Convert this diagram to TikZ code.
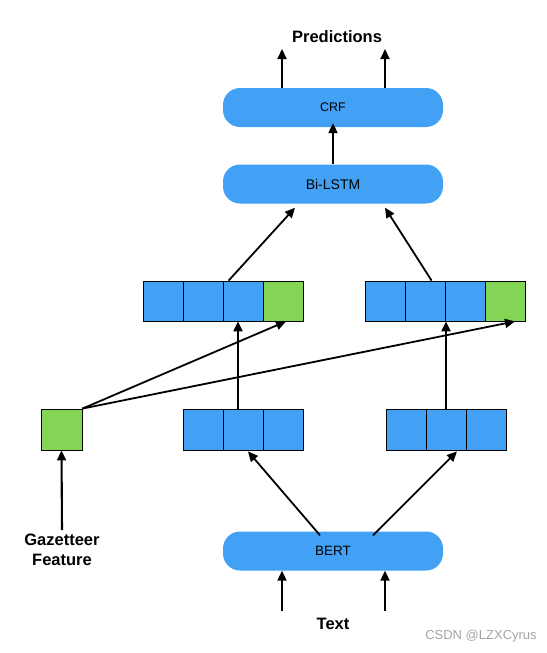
\documentclass[tikz,border=0pt]{standalone}
\usepackage{fontspec}
\setmainfont{Liberation Sans}
\usetikzlibrary{arrows.meta,calc}
\definecolor{bblue}{RGB}{66,161,245}
\definecolor{ggreen}{RGB}{132,212,85}
\definecolor{wm}{RGB}{165,165,165}
\begin{document}
\begin{tikzpicture}[x=1pt,y=-1pt,
  layer/.style={draw=none,fill=bblue,rounded corners=17pt,minimum width=220pt,minimum height=39pt,inner sep=0pt},
  cell/.style={draw=black,line width=0.8pt,fill=bblue,minimum width=40pt,minimum height=40pt,inner sep=0pt},
  gcell/.style={cell,fill=ggreen},
  arr/.style={line width=2.1pt,-{Triangle[length=10pt,width=9pt]}},
  darr/.style={line width=1.8pt,-{Triangle[length=10pt,width=9pt]}},
  lbl/.style={font=\fontsize{16.5}{20}\selectfont\bfseries,align=center}]
\useasboundingbox (0,0) rectangle (546,653);
\fill[white] (0,0) rectangle (546,653);
% layers
\node[layer,font=\fontsize{12.5}{15}\selectfont] (crf) at (333,107.5) {CRF};
\node[layer,font=\fontsize{14}{16}\selectfont] (bilstm) at (333,184) {Bi-LSTM};
\node[layer,font=\fontsize{13.5}{16}\selectfont] (bert) at (333,551) {BERT};
% upper left concat
\node[cell] (L1) at (163,301) {};
\node[cell] (L2) at (203,301) {};
\node[cell] (L3) at (243,301) {};
\node[gcell] (L4) at (283,301) {};
% upper right concat
\node[cell] (R1) at (385,301) {};
\node[cell] (R2) at (425,301) {};
\node[cell] (R3) at (465,301) {};
\node[gcell] (R4) at (505,301) {};
% lower left
\node[cell,minimum height=41pt] (A1) at (203,429.5) {};
\node[cell,minimum height=41pt] (A2) at (243,429.5) {};
\node[cell,minimum height=41pt] (A3) at (283,429.5) {};
% lower right
\node[cell,minimum height=41pt] (B1) at (406.5,429.5) {};
\node[cell,minimum height=41pt] (B2) at (446,429.5) {};
\node[cell,minimum height=41pt] (B3) at (486,429.5) {};
% gazetteer
\node[gcell,minimum width=41pt,minimum height=41pt] (gaz) at (61.5,429.5) {};
% labels
\node[lbl] (pred) at (337,37) {Predictions};
\node[lbl] (gazlbl) at (62,550) {Gazetteer\\Feature};
\node[lbl] (text) at (333,624) {Text};
\node[font=\fontsize{13}{15}\selectfont,text=wm] (wmk) at (481,636) {CSDN @LZXCyrus};
% coordinates
\coordinate (p1) at (282,49);
\coordinate (p2) at (385,49);
\coordinate (t1) at (282,611);
\coordinate (t2) at (385,611);
\coordinate (g0) at (62,530);
% arrows
\draw[arr] (crf.north -| p1) -- (p1);
\draw[arr] (crf.north -| p2) -- (p2);
\draw[arr] (bilstm.north) -- ([yshift=4pt]crf.south);
\draw[darr] ($(L3.north west)+(6,0)$) -- ($(bilstm.south)+(-38,4)$);
\draw[darr] ($(R3.north west)+(-13,0)$) -- ($(bilstm.south)+(52,4)$);
\draw[arr] ($(A2.north)+(-5,0)$) -- ($(L3.south)+(-5,0)$);
\draw[arr] (B2.north) -- (B2.north |- R3.south);
\draw[darr] (gaz.north east) -- ($(L4.south)+(3,0)$);
\draw[darr] (gaz.north east) -- ($(R4.south)+(10,0)$);
\draw[arr] (g0) -- (gaz.south);
\draw[darr] ($(bert.north)+(-13,4)$) -- ($(A2.south)+(5,1)$);
\draw[darr] ($(bert.north)+(40,4)$) -- ($(B2.south)+(11,1)$);
\draw[arr] (t1) -- (bert.south -| t1);
\draw[arr] (t2) -- (bert.south -| t2);
\end{tikzpicture}
\end{document}
